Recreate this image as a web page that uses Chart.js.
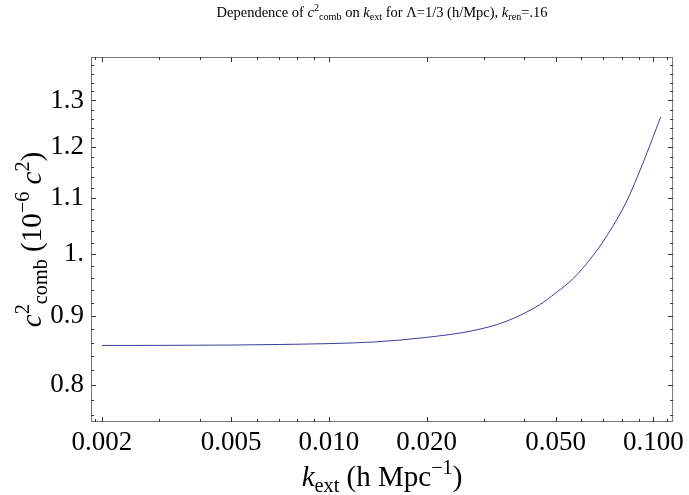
<!DOCTYPE html>
<html>
<head>
<meta charset="utf-8">
<script src="https://cdn.jsdelivr.net/npm/chart.js@4.4.1/dist/chart.umd.min.js"></script>
<style>
  html, body { margin: 0; padding: 0; background: #fff; }
</style>
</head>
<body>
<canvas id="chart" width="689" height="495"></canvas>
<script>
// values
const kExt = [0.002, 0.003, 0.005, 0.007, 0.010, 0.0139, 0.0197, 0.028, 0.0353, 0.0445, 0.050, 0.0568, 0.0646, 0.0726, 0.0825, 0.0927, 0.1053];
const c2comb = [0.8558, 0.8559, 0.8564, 0.8572, 0.8585, 0.861, 0.8673, 0.878, 0.892, 0.917, 0.936, 0.960, 0.995, 1.0356, 1.093, 1.167, 1.2635];

const xTicks = [0.002, 0.005, 0.01, 0.02, 0.05, 0.1];
const xTickLabels = ['0.002', '0.005', '0.010', '0.020', '0.050', '0.100'];
const xMinor = [0.0019, 0.003, 0.004, 0.006, 0.007, 0.008, 0.009, 0.03, 0.04, 0.06, 0.07, 0.08, 0.09, 0.11];
const yTicks = [0.8, 0.9, 1.0, 1.1, 1.2, 1.3];
const yTickLabels = ['0.8', '0.9', '1.', '1.1', '1.2', '1.3'];
const yMinor = [0.76, 0.78, 0.82, 0.84, 0.86, 0.88, 0.92, 0.94, 0.96, 0.98,
                1.02, 1.04, 1.06, 1.08, 1.12, 1.14, 1.16, 1.18, 1.22, 1.24, 1.26, 1.28,
                1.32, 1.34, 1.36, 1.38];

const SERIF = "'Liberation Serif', 'Times New Roman', serif";

// draws text with italics / sub / superscripts, parts = [text, flags]
// flags: 'i' italic, '^' superscript, '_' subscript
function drawRich(ctx, parts, size, x, y, align) {
  const items = parts.map(([t, f = '']) => {
    const small = f.includes('^') || f.includes('_');
    const sz = small ? size * 0.7 : size;
    const font = (f.includes('i') ? 'italic ' : '') + sz + 'px ' + SERIF;
    ctx.font = font;
    const dy = f.includes('^') ? -size * 0.42 : f.includes('_') ? size * 0.22 : 0;
    return { t, font, dy, w: ctx.measureText(t).width };
  });
  const total = items.reduce((s, it) => s + it.w, 0);
  let cx = align === 'center' ? x - total / 2 : x;
  ctx.textAlign = 'left';
  ctx.textBaseline = 'alphabetic';
  items.forEach(it => {
    ctx.font = it.font;
    ctx.fillText(it.t, cx, y + it.dy);
    cx += it.w;
  });
}

const framePlugin = {
  id: 'mmaFrame',
  afterDatasetsDraw(chart) {
    const { ctx, chartArea: a, scales: { x, y } } = chart;
    ctx.save();
    ctx.strokeStyle = '#777';
    ctx.lineWidth = 1;
    ctx.strokeRect(a.left + 0.5, a.top + 0.5, a.right - a.left - 1, a.bottom - a.top - 1);

    ctx.strokeStyle = '#333';
    const tick = (px, len, horiz) => {
      ctx.beginPath();
      const p = Math.round(px) + 0.5;
      if (horiz) {
        ctx.moveTo(p, a.bottom); ctx.lineTo(p, a.bottom - len);
        ctx.moveTo(p, a.top); ctx.lineTo(p, a.top + len);
      } else {
        ctx.moveTo(a.left, p); ctx.lineTo(a.left + len, p);
        ctx.moveTo(a.right, p); ctx.lineTo(a.right - len, p);
      }
      ctx.stroke();
    };
    xTicks.forEach(v => tick(x.getPixelForValue(v), 5, true));
    xMinor.forEach(v => tick(x.getPixelForValue(v), 3, true));
    yTicks.forEach(v => tick(y.getPixelForValue(v), 5, false));
    yMinor.forEach(v => tick(y.getPixelForValue(v), 3, false));

    ctx.fillStyle = '#000';
    // title
    drawRich(ctx, [['Dependence of '], ['c', 'i'], ['2', '^'], ['comb', '_'], [' on '], ['k', 'i'], ['ext', '_'],
      [' for \u039B=1/3 (h/Mpc), '], ['k', 'i'], ['ren', '_'], ['=.16']], 14.5, (a.left + a.right) / 2, 17, 'center');
    // x axis title
    drawRich(ctx, [['k', 'i'], ['ext', '_'], [' (h Mpc'], ['\u22121', '^'], [')']], 29, (a.left + a.right) / 2, 486, 'center');
    // y axis title
    ctx.translate(41, (a.top + a.bottom) / 2);
    ctx.rotate(-Math.PI / 2);
    drawRich(ctx, [['c', 'i'], ['2', '^'], ['comb', '_'], [' (10'], ['\u22126', '^'], [' '], ['c', 'i'], ['2', '^'], [')']], 29, 0, 0, 'center');
    ctx.restore();
  }
};

const ctx = document.getElementById('chart').getContext('2d');

new Chart(ctx, {
  type: 'line',
  data: {
    datasets: [{
      data: kExt.map((k, i) => ({ x: k, y: c2comb[i] })),
      borderColor: '#3d3d99',
      borderWidth: 1,
      pointRadius: 0,
      fill: false,
      cubicInterpolationMode: 'monotone'
    }]
  },
  options: {
    responsive: false,
    animation: false,
    devicePixelRatio: 1,
    layout: { padding: { left: 0, top: 57, right: 7, bottom: 0 } },
    plugins: { legend: { display: false }, title: { display: false }, tooltip: { enabled: false } },
    scales: {
      x: {
        type: 'logarithmic',
        min: 0.00185,
        max: 0.115,
        afterBuildTicks: s => { s.ticks = xTicks.map(v => ({ value: v })); },
        afterFit: s => { s.height = 73; },
        grid: { display: false, drawTicks: false },
        border: { display: false },
        ticks: {
          autoSkip: false,
          maxRotation: 0,
          padding: 5,
          color: '#000',
          font: { family: SERIF, size: 27 },
          callback: (v, i) => xTickLabels[i]
        }
      },
      y: {
        type: 'logarithmic',
        min: 0.751,
        max: 1.40,
        afterBuildTicks: s => { s.ticks = yTicks.map(v => ({ value: v })); },
        afterFit: s => { s.width = 91; },
        grid: { display: false, drawTicks: false },
        border: { display: false },
        ticks: {
          autoSkip: false,
          padding: 7,
          color: '#000',
          font: { family: SERIF, size: 27 },
          callback: (v, i) => yTickLabels[i]
        }
      }
    }
  },
  plugins: [framePlugin]
});
</script>
</body>
</html>
